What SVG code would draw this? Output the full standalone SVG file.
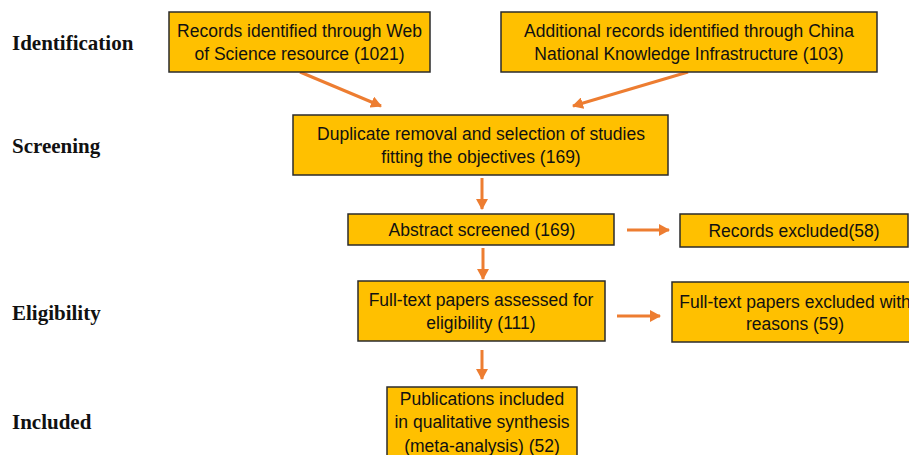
<svg xmlns="http://www.w3.org/2000/svg" width="909" height="455" viewBox="0 0 909 455">
<style>
.box{fill:#FFC000;stroke:#2b2b2b;stroke-width:1.5}
.t{font-family:"Liberation Sans",Arial,sans-serif;font-size:17.5px;fill:#111;text-anchor:middle}
.lab{font-family:"Liberation Serif","Times New Roman",serif;font-size:21px;font-weight:bold;fill:#111}
.c{stroke:#ED7D31;stroke-width:3;fill:none;marker-end:url(#ah)}
</style>
<defs>
<marker id="ah" markerUnits="userSpaceOnUse" markerWidth="12" markerHeight="12" refX="10" refY="6" orient="auto">
<path d="M0,0 L11,6 L0,12 z" fill="#ED7D31"/>
</marker>
</defs>
<rect width="909" height="455" fill="#fff"/>
<g id="labels">
<text class="lab" x="12" y="50">Identification</text>
<text class="lab" x="12" y="153">Screening</text>
<text class="lab" x="12" y="320">Eligibility</text>
<text class="lab" x="12" y="429">Included</text>
</g>
<g id="connectors">
<line class="c" x1="300" y1="72" x2="381" y2="106"/>
<line class="c" x1="688" y1="72" x2="573" y2="106"/>
<line class="c" x1="482" y1="178" x2="482" y2="209"/>
<line class="c" x1="627" y1="230" x2="669" y2="230"/>
<line class="c" x1="483" y1="248" x2="483" y2="279"/>
<line class="c" x1="617" y1="316" x2="660" y2="316"/>
<line class="c" x1="482" y1="350" x2="482" y2="379"/>
</g>
<g id="wos">
<rect class="box" x="169" y="12" width="261" height="60"/>
<text class="t" x="299.5" y="37">Records identified through Web</text>
<text class="t" x="299.5" y="60">of Science resource (1021)</text>
</g>
<g id="cnki">
<rect class="box" x="501" y="12" width="376" height="60"/>
<text class="t" x="689" y="37">Additional records identified through China</text>
<text class="t" x="689" y="60">National Knowledge Infrastructure (103)</text>
</g>
<g id="dup">
<rect class="box" x="293" y="115" width="375" height="60"/>
<text class="t" x="481" y="140">Duplicate removal and selection of studies</text>
<text class="t" x="481" y="163">fitting the objectives (169)</text>
</g>
<g id="abstract">
<rect class="box" x="348" y="214" width="266" height="31"/>
<text class="t" x="482" y="236">Abstract screened (169)</text>
</g>
<g id="excl1">
<rect class="box" x="680" y="214" width="228" height="33"/>
<text class="t" x="794" y="237">Records excluded(58)</text>
</g>
<g id="fulltext">
<rect class="box" x="358" y="281" width="247" height="60"/>
<text class="t" x="481" y="306">Full-text papers assessed for</text>
<text class="t" x="481" y="329">eligibility (111)</text>
</g>
<g id="excl2">
<rect class="box" x="672" y="282" width="246" height="60"/>
<text class="t" x="795" y="308">Full-text papers excluded with</text>
<text class="t" x="795" y="330">reasons (59)</text>
</g>
<g id="included">
<rect class="box" x="387" y="387" width="190" height="80"/>
<text class="t" x="482" y="405">Publications included</text>
<text class="t" x="482" y="428">in qualitative synthesis</text>
<text class="t" x="482" y="452">(meta-analysis) (52)</text>
</g>
</svg>
